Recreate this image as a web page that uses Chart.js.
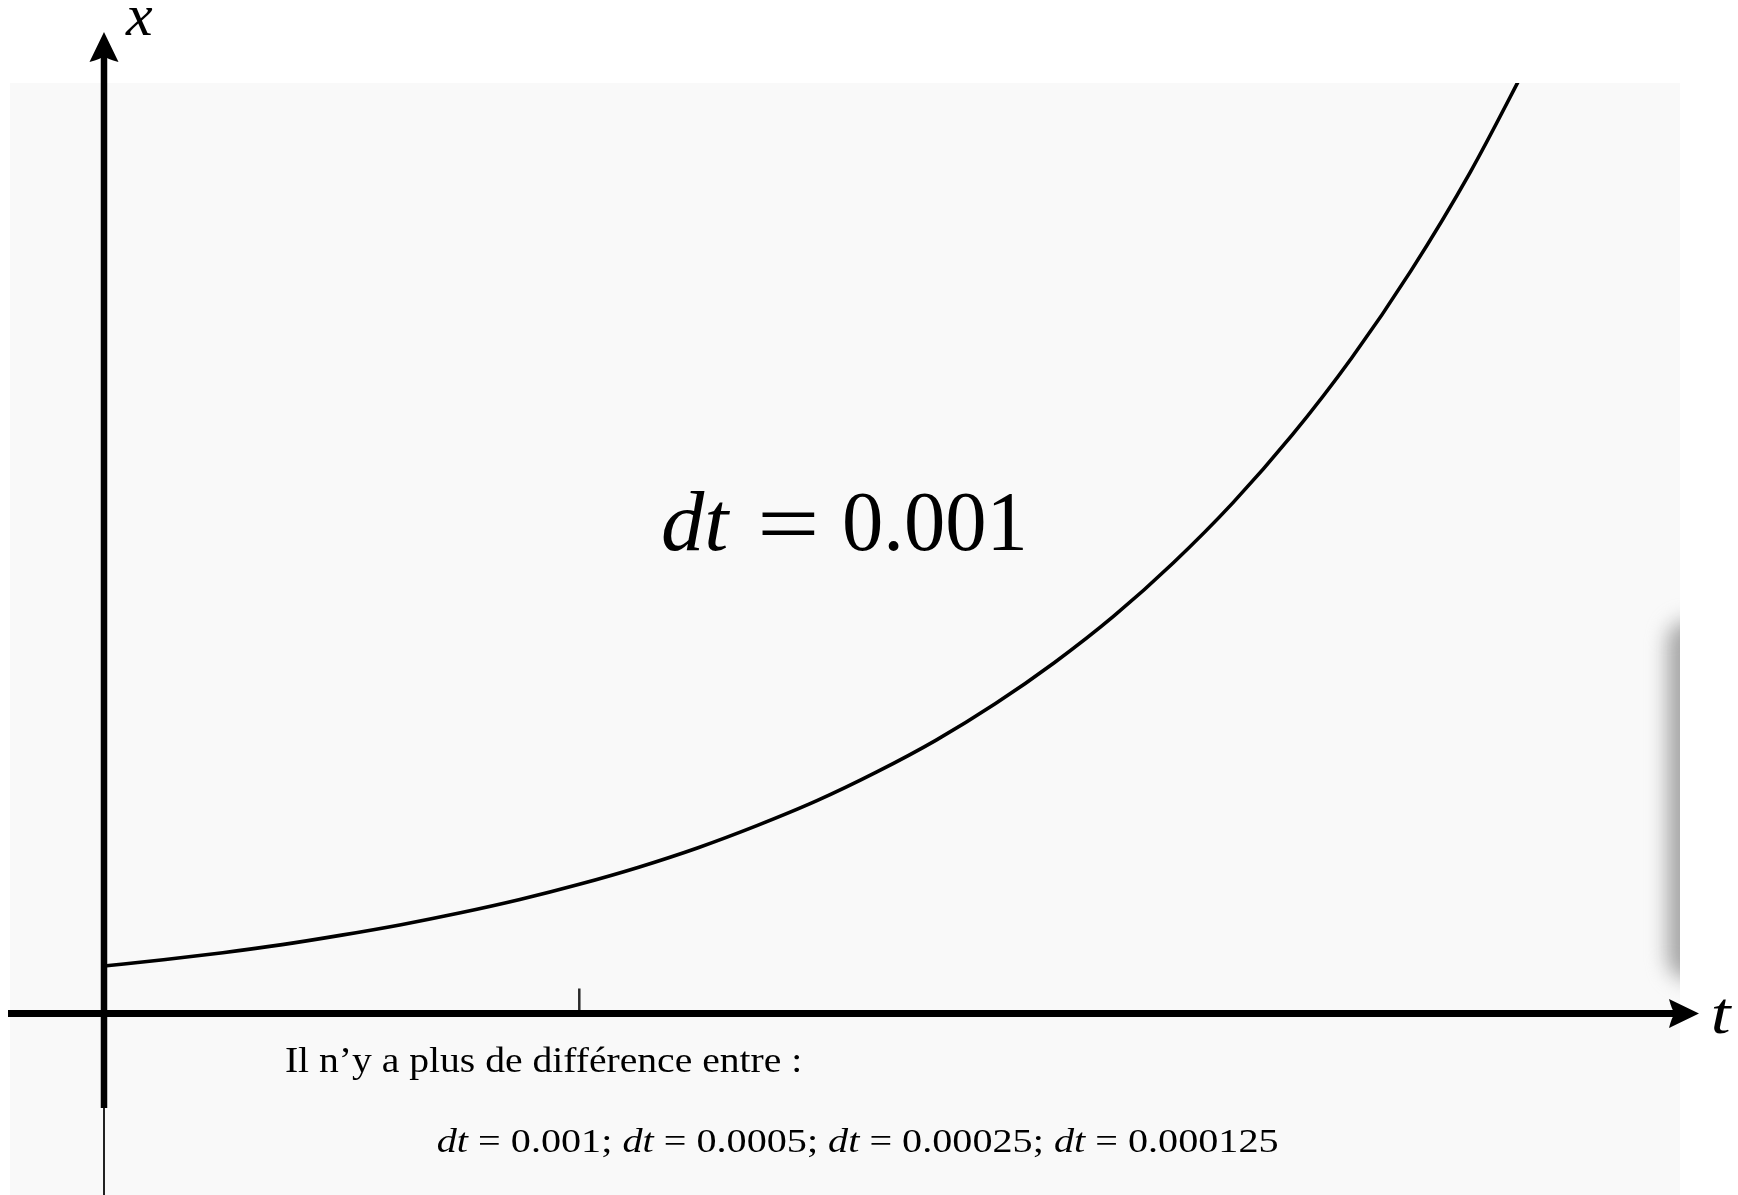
<!DOCTYPE html>
<html>
<head>
<meta charset="utf-8">
<script src="https://cdn.jsdelivr.net/npm/chart.js@4/dist/chart.umd.min.js"></script>
<style>
  html, body { margin: 0; padding: 0; background: #ffffff; overflow: hidden; }
  canvas { display: block; }
</style>
</head>
<body>
<canvas id="chart" width="1738" height="1195"></canvas>
<script>
// Solution x(t) computed with step dt = 0.001
const tValues = [0, 0.125, 0.25, 0.375, 0.5, 0.625, 0.75, 0.875, 1, 1.125, 1.25, 1.375, 1.5,
                 1.625, 1.75, 1.875, 2, 2.125, 2.25, 2.375, 2.5, 2.625, 2.75, 2.875, 3];
const xValues = [1.00, 1.13, 1.28, 1.45, 1.65, 1.87, 2.12, 2.40, 2.72, 3.08, 3.49, 3.96, 4.48,
                 5.08, 5.75, 6.52, 7.39, 8.37, 9.49, 10.75, 12.18, 13.80, 15.64, 17.72, 20.09];

// Axis names and the single tick on the time axis
const axisNames = ['t', 'x'];
const tTicks = [1];

// Annotation texts
const stepLabel = [['dt', 'i'], ['=', 'r'], ['0.001', 'r']];
const noteLine = 'Il n\u2019y a plus de diff\u00e9rence entre :';
const stepList = ['0.001', '0.0005', '0.00025', '0.000125'];

const W = 1738, H = 1195;
const SERIF = '"Liberation Serif", "Times New Roman", serif';
const panel = { left: 10, top: 83, right: 1680, bottom: H };

// Draws text so that its inked extent spans [left, left + width]
function drawFitted(ctx, text, font, left, baseline, width) {
  ctx.save();
  ctx.font = font;
  ctx.textAlign = 'left';
  ctx.textBaseline = 'alphabetic';
  const m = ctx.measureText(text);
  const ink = m.actualBoundingBoxLeft + m.actualBoundingBoxRight;
  const s = width / ink;
  ctx.translate(left + m.actualBoundingBoxLeft * s, baseline);
  ctx.scale(s, 1);
  ctx.fillText(text, 0, 0);
  ctx.restore();
}

// Draws a run of mixed italic / roman pieces fitted to a width
function drawRuns(ctx, runs, size, left, baseline, width) {
  ctx.save();
  ctx.textAlign = 'left';
  ctx.textBaseline = 'alphabetic';
  const fontOf = st => (st === 'i' ? 'italic ' : '') + size + 'px ' + SERIF;
  const ms = runs.map(([txt, st]) => { ctx.font = fontOf(st); return ctx.measureText(txt); });
  let adv = 0;
  for (let i = 0; i < ms.length - 1; i++) adv += ms[i].width;
  const inkLeft = -ms[0].actualBoundingBoxLeft;
  const inkRight = adv + ms[ms.length - 1].actualBoundingBoxRight;
  const s = width / (inkRight - inkLeft);
  ctx.translate(left - inkLeft * s, baseline);
  ctx.scale(s, 1);
  let x = 0;
  runs.forEach(([txt, st], i) => {
    ctx.font = fontOf(st);
    ctx.fillText(txt, x, 0);
    x += ms[i].width;
  });
  ctx.restore();
}

// LaTeX-style arrow head; (dx, dy) is the pointing direction
function arrowHead(ctx, tx, ty, dx, dy, len, half) {
  const px = -dy, py = dx;
  const P = (a, b) => [tx - dx * a + px * b, ty - dy * a + py * b];
  const c1 = P(len, half), c2 = P(len, -half), notch = P(len * 0.8, 0);
  const k1 = P(len * 0.5, half * 0.5), k2 = P(len * 0.5, -half * 0.5);
  const n1 = P(len * 0.9, half * 0.2), n2 = P(len * 0.9, -half * 0.2);
  ctx.beginPath();
  ctx.moveTo(tx, ty);
  ctx.quadraticCurveTo(k1[0], k1[1], c1[0], c1[1]);
  ctx.quadraticCurveTo(n1[0], n1[1], notch[0], notch[1]);
  ctx.quadraticCurveTo(n2[0], n2[1], c2[0], c2[1]);
  ctx.quadraticCurveTo(k2[0], k2[1], tx, ty);
  ctx.closePath();
  ctx.fill();
}

const sketchPlugin = {
  id: 'sketch',
  beforeDraw(chart) {
    const ctx = chart.ctx;
    ctx.save();
    ctx.fillStyle = '#ffffff';
    ctx.fillRect(0, 0, W, H);
    ctx.fillStyle = '#f9f9f9';
    ctx.fillRect(panel.left, panel.top, panel.right - panel.left, panel.bottom - panel.top);
    // soft shadow along the right edge of the panel
    ctx.beginPath();
    ctx.rect(panel.left, panel.top, panel.right - panel.left, panel.bottom - panel.top);
    ctx.clip();
    ctx.filter = 'blur(10px)';
    ctx.fillStyle = '#a6a6a6';
    ctx.beginPath();
    ctx.roundRect(1667, 620, 46, 360, 24);
    ctx.fill();
    ctx.restore();
  },
  beforeDatasetsDraw(chart) {
    const ctx = chart.ctx;
    ctx.save();
    ctx.beginPath();
    ctx.rect(panel.left, panel.top, panel.right - panel.left, panel.bottom - panel.top);
    ctx.clip();
  },
  afterDatasetsDraw(chart) {
    const ctx = chart.ctx;
    ctx.restore();
    const xs = chart.scales.x, ys = chart.scales.y;
    const x0 = xs.getPixelForValue(0);
    const y0 = ys.getPixelForValue(0);

    ctx.save();
    ctx.fillStyle = '#000';
    ctx.lineCap = 'butt';

    // tick marks on the time axis
    ctx.strokeStyle = '#2a2a2a';
    ctx.lineWidth = 2.5;
    tTicks.forEach(v => {
      const px = xs.getPixelForValue(v);
      ctx.beginPath();
      ctx.moveTo(px, y0 - 25);
      ctx.lineTo(px, y0);
      ctx.stroke();
    });

    // horizontal (t) axis
    ctx.strokeStyle = '#000';
    ctx.lineWidth = 7;
    ctx.beginPath();
    ctx.moveTo(8, y0);
    ctx.lineTo(1684, y0);
    ctx.stroke();
    arrowHead(ctx, 1699, y0, 1, 0, 30, 14.5);

    // vertical (x) axis: thick part with arrow, thin continuation below
    ctx.lineWidth = 6.5;
    ctx.beginPath();
    ctx.moveTo(x0, 1108);
    ctx.lineTo(x0, 52);
    ctx.stroke();
    arrowHead(ctx, x0, 32, 0, -1, 30, 14.5);
    ctx.strokeStyle = '#222';
    ctx.lineWidth = 2;
    ctx.beginPath();
    ctx.moveTo(x0, 1108);
    ctx.lineTo(x0, H);
    ctx.stroke();

    // axis names
    ctx.fillStyle = '#000';
    drawFitted(ctx, axisNames[1], 'italic 60px ' + SERIF, 125, 35, 28);
    drawFitted(ctx, axisNames[0], 'italic 60px ' + SERIF, 1713, 1033, 19);

    // step label inside the plot
    drawFitted(ctx, stepLabel[0][0], 'italic 84px ' + SERIF, 663, 550, 68);
    drawFitted(ctx, stepLabel[1][0], '88px ' + SERIF, 762, 553, 53);
    drawFitted(ctx, stepLabel[2][0], '84px ' + SERIF, 845, 550, 178);

    // notes below the axis
    drawFitted(ctx, noteLine, '36px ' + SERIF, 286, 1072, 514);
    const runs = [];
    stepList.forEach((v, i) => {
      runs.push(['dt', 'i']);
      runs.push([' = ' + v + (i < stepList.length - 1 ? '; ' : ''), 'r']);
    });
    drawRuns(ctx, runs, 33, 438, 1152, 840);
    ctx.restore();
  }
};

new Chart(document.getElementById('chart'), {
  type: 'line',
  data: {
    datasets: [{
      label: 'x(t)',
      data: tValues.map((t, i) => ({ x: t, y: xValues[i] })),
      borderColor: '#000000',
      borderWidth: 3.6,
      pointRadius: 0,
      fill: false,
      cubicInterpolationMode: 'monotone'
    }]
  },
  options: {
    responsive: false,
    devicePixelRatio: 1,
    animation: false,
    layout: { padding: 0 },
    plugins: { legend: { display: false }, tooltip: { enabled: false } },
    scales: {
      x: { type: 'linear', display: false, min: -0.2188, max: 3.4379 },
      y: { type: 'linear', display: false, min: -3.821, max: 21.337 }
    }
  },
  plugins: [sketchPlugin]
});
</script>
</body>
</html>
